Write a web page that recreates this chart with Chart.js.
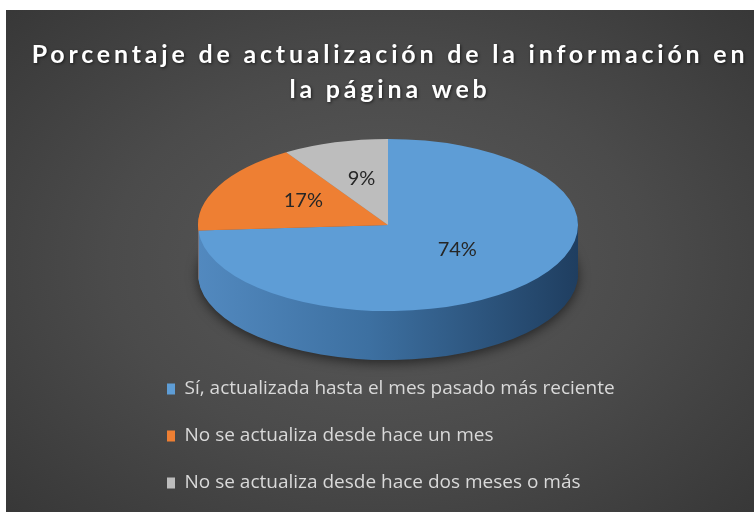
<!DOCTYPE html>
<html>
<head>
<meta charset="utf-8">
<script src="https://cdn.jsdelivr.net/npm/chart.js@4.4.1/dist/chart.umd.min.js"></script>
<style>
  html, body { margin: 0; padding: 0; background: #fff; }
  #wrap {
    position: absolute; left: 6px; top: 10px; width: 748px; height: 502px;
    background: radial-gradient(ellipse 72% 75% at 50% 50%, #5a5a5a 0%, #4b4b4b 50%, #363636 100%);
  }
</style>
</head>
<body>
<div id="wrap"><canvas id="chart"></canvas></div>
<script>
// ---------------------------
// DATA
// ---------------------------
const titleLines = ["Porcentaje de actualización de la información en", "la página web"];
const categories = [
  "Sí, actualizada hasta el mes pasado más reciente",
  "No se actualiza desde hace un mes",
  "No se actualiza desde hace dos meses o más",
];
const percentages = [74, 17, 9];

// colours: top face / side of the disc
const topColors = ["#5e9dd6", "#ee7f33", "#bdbdbd"];
const sideColors = [null, "#a8561f", "#7c7c7c"]; // blue side is a gradient, built below

// 3D look
const DEPTH = 49;
const TILT = 0.453;
const LABEL_LIFT = 5;

// ---------------------------
// 3D PIE: extrude + squash
// ---------------------------
function squash(ctx, cx, cy, dy) {
  ctx.translate(cx, cy + dy);
  ctx.scale(1, TILT);
  ctx.translate(-cx, -cy);
}

const pie3d = {
  id: "pie3d",
  beforeDatasetsDraw(chart) {
    const ctx = chart.ctx;
    const meta = chart.getDatasetMeta(0);
    const a = meta.data[0];
    const cx = a.x, cy = a.y, r = a.outerRadius;

    const blueSide = ctx.createLinearGradient(cx - r, 0, cx + r, 0);
    blueSide.addColorStop(0, "#5289bf");
    blueSide.addColorStop(0.45, "#3d70a1");
    blueSide.addColorStop(1, "#1f3e60");
    const sides = [blueSide, sideColors[1], sideColors[2]];

    for (let d = DEPTH; d >= 1; d--) {
      ctx.save();
      squash(ctx, cx, cy, d);
      if (d === DEPTH) {
        ctx.shadowColor = "rgba(0,0,0,0.55)";
        ctx.shadowBlur = 12;
        ctx.shadowOffsetY = 3;
      }
      meta.data.forEach((el, i) => {
        const orig = el.options;
        el.options = Object.assign({}, orig, { backgroundColor: sides[i], borderWidth: 0 });
        el.draw(ctx);
        el.options = orig;
      });
      ctx.restore();
    }

    // top face gets drawn by chart.js inside this transform
    ctx.save();
    squash(ctx, cx, cy, 0);
  },
  afterDatasetsDraw(chart) {
    const ctx = chart.ctx;
    ctx.restore();

    const meta = chart.getDatasetMeta(0);
    const cy = meta.data[0].y;
    ctx.save();
    ctx.font = "20px Lato";
    ctx.fillStyle = "#262626";
    ctx.textAlign = "center";
    ctx.textBaseline = "middle";
    meta.data.forEach((el, i) => {
      const p = el.tooltipPosition();
      ctx.fillText(percentages[i] + "%", p.x, cy + (p.y - cy) * TILT - LABEL_LIFT);
    });
    ctx.restore();
  },
};

// ---------------------------
// TITLE (letter spaced)
// ---------------------------
const spacedTitle = {
  id: "spacedTitle",
  afterDraw(chart) {
    const ctx = chart.ctx;
    const x = (chart.chartArea.left + chart.chartArea.right) / 2;
    ctx.save();
    ctx.font = "bold 25px Lato";
    ctx.letterSpacing = "3.8px";
    ctx.fillStyle = "#ffffff";
    ctx.textAlign = "center";
    ctx.textBaseline = "alphabetic";
    ctx.shadowColor = "rgba(0,0,0,0.6)";
    ctx.shadowBlur = 3;
    ctx.shadowOffsetX = 1;
    ctx.shadowOffsetY = 1;
    titleLines.forEach((t, i) => ctx.fillText(t, x + 2, 53 + i * 35));
    ctx.restore();
  },
};

// ---------------------------
// CHART
// ---------------------------
const ctx = document.getElementById("chart").getContext("2d");
window.myChart = new Chart(ctx, {
  type: "pie",
  data: {
    labels: categories,
    datasets: [
      {
        data: percentages,
        backgroundColor: topColors,
        borderWidth: 0,
        clip: false,
      },
    ],
  },
  options: {
    responsive: true,
    maintainAspectRatio: false,
    animation: false,
    events: [],
    radius: 190,
    layout: { padding: { top: 88.5, left: 133, right: 117, bottom: 9.5 } },
    plugins: {
      legend: {
        position: "bottom",
        align: "start",
        labels: {
          color: "#d9d9d9",
          font: { family: "Open Sans", size: 19 },
          boxWidth: 8,
          boxHeight: 11,
          padding: 28,
        },
      },
      tooltip: { enabled: false },
    },
  },
  plugins: [pie3d, spacedTitle],
});
</script>
</body>
</html>
